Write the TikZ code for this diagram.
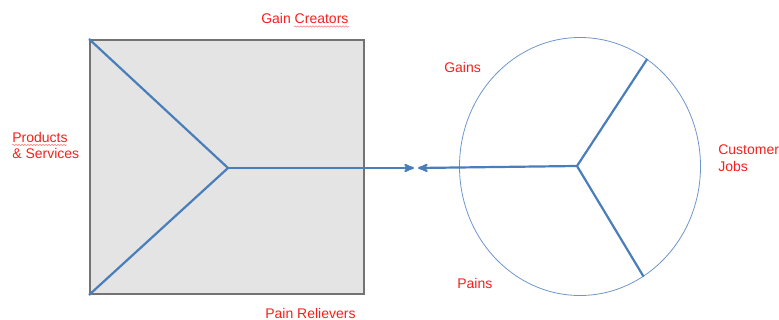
\documentclass[tikz,border=0pt]{standalone}
\usepackage{fontspec}
\setmainfont{Liberation Sans}
\usetikzlibrary{arrows,shapes.geometric,decorations.pathmorphing}
\definecolor{boxgray}{RGB}{228,228,228}
\definecolor{boxedge}{RGB}{115,115,115}
\definecolor{spokeblue}{RGB}{74,126,187}
\definecolor{ringblue}{RGB}{110,150,205}
\definecolor{labelred}{RGB}{250,30,30}

\begin{document}
\begin{tikzpicture}[x=1pt,y=-1pt,>=stealth',semithick,
	lbl/.style={text=labelred,font=\fontsize{14}{16.3}\selectfont,align=left,inner sep=0pt,anchor=base west},
	spoke/.style={draw=spokeblue,line width=2.2pt},
	squiggle/.style={draw=labelred!60,line width=0.5pt,decorate,decoration={snake,amplitude=0.7pt,segment length=3pt}}]
		\useasboundingbox (0,0) rectangle (779,320);

		% value map (square) and customer profile (circle)
		\node[rectangle,draw=boxedge,line width=2pt,fill=boxgray,inner sep=0pt,
			minimum width=274pt,minimum height=254pt]
		(node1) at (227,167) 	{};
		\node[ellipse,draw=ringblue,line width=0.8pt,inner sep=0pt,
			minimum width=241pt,minimum height=258pt]
		(node2) at (580,166.5) 	{};

		\coordinate (hub1) at (228,168);
		\coordinate (hub2) at (577,166);
		\coordinate (tip1) at (414,168);
		\coordinate (tip2) at (418,168);

		% spokes
		\path[spoke] (node1.north west) -- (hub1) -- (node1.south west);
		\path[spoke,->] (hub1) -- (tip1);
		\path[spoke] (node2.58) -- (hub2) -- (node2.300.5);
		\path[spoke,->] (hub2) -- (tip2);

		% labels (multi-line ones sit on their last baseline)
		\node[lbl] (lbl1) at (261,24) 		{Gain Creators};
		\node[lbl] (lbl2) at (265,318.3) 	{Pain Relievers};
		\node[lbl] (lbl3) at (12,159) 		{Products\\\& Services};
		\node[lbl] (lbl4) at (444,72.3) 	{Gains};
		\node[lbl] (lbl5) at (457,288.7) 	{Pains};
		\node[lbl] (lbl6) at (718,171.3) 	{Customer\\Jobs};

		\path[squiggle] (294,26.5) -- (349,26.5);
		\path[squiggle] (12,145) -- (67,145);
\end{tikzpicture}
\end{document}
